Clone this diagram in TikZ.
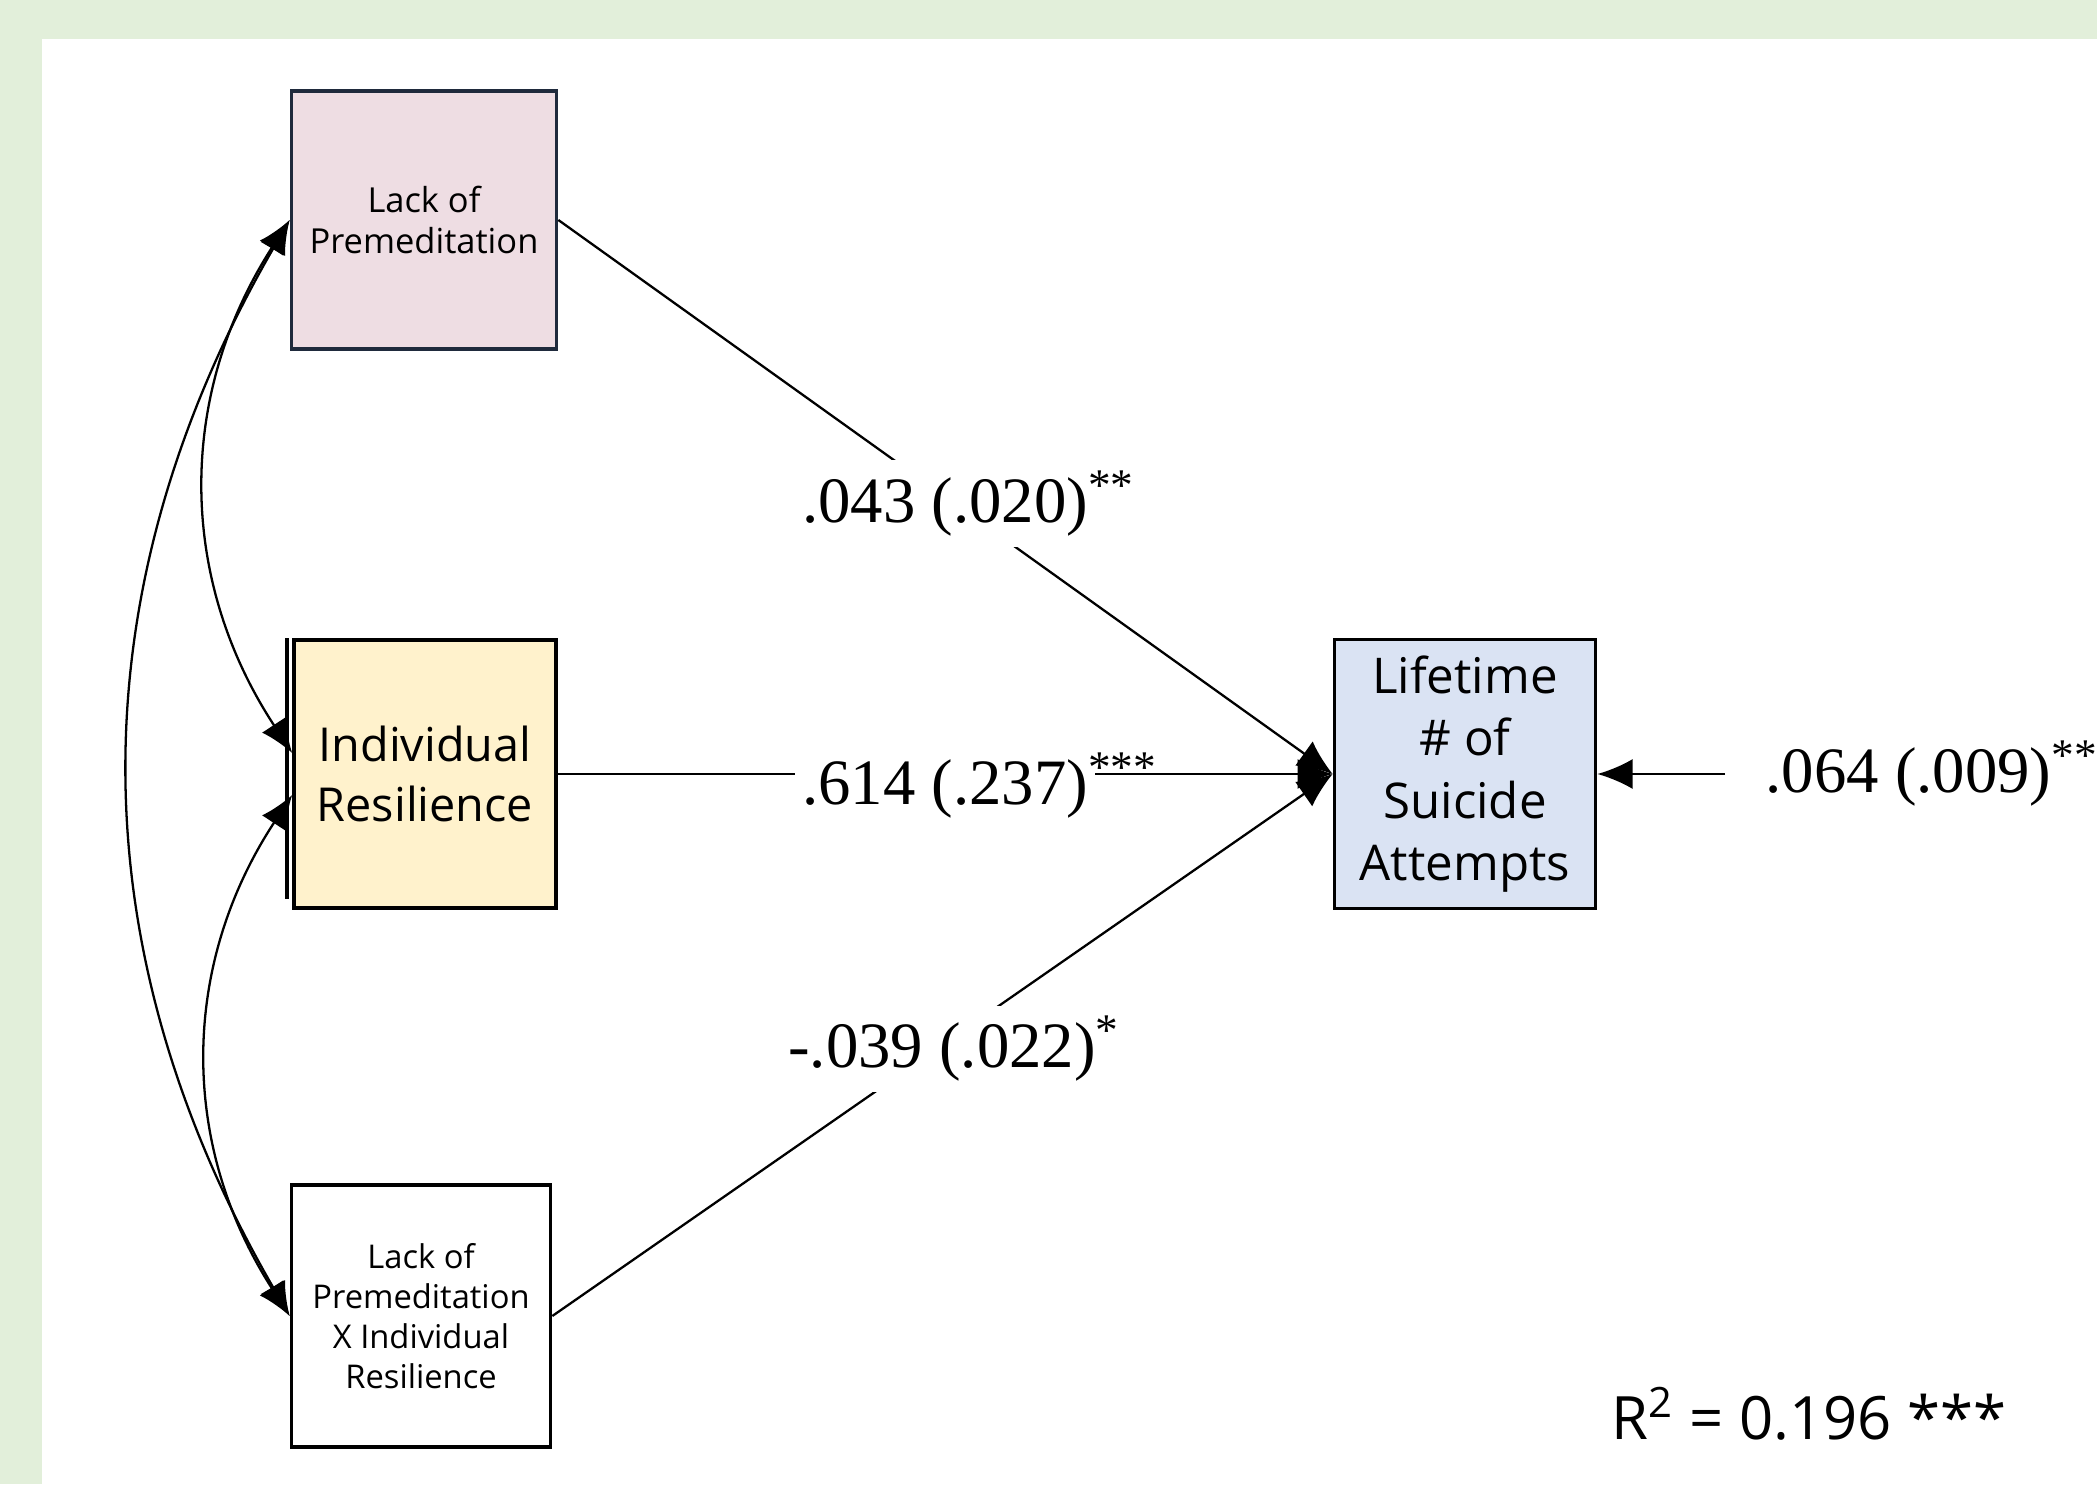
\documentclass[tikz,border=0pt]{standalone}
\usepackage{fontspec}
\setmainfont{Liberation Serif}
\newfontfamily\boxfont{Open Sans}
\usetikzlibrary{arrows.meta,positioning,calc}
\definecolor{PageGreen}{HTML}{E2EFDA}
\definecolor{BoxInk}{HTML}{1F2A3C}
\definecolor{PinkFill}{HTML}{EEDDE3}
\definecolor{GoldFill}{HTML}{FFF2CC}
\definecolor{BlueFill}{HTML}{DAE3F3}

\begin{document}
\begin{tikzpicture}[x=0.01cm,y=0.01cm,
  varbox/.style={draw=black,line width=1pt,align=center,inner sep=0pt},
  coef/.style={fill=white,inner xsep=2pt,inner ysep=3pt,font=\fontsize{18.4}{22}\selectfont},
  effect/.style={-{Latex[length=10pt,width=8.5pt]},line width=0.65pt},
  cov/.style={{Latex[length=9.5pt,width=8pt]}-{Latex[length=9.5pt,width=8pt]},line width=0.65pt}]
\useasboundingbox (0,0) rectangle (2097,1484);
\fill[PageGreen] (0,0) rectangle (2097,1484);
\fill[white] (42,0) rectangle (2097,1445);
% predictors
\node[varbox,fill=PinkFill,draw=BoxInk,minimum width=2.65cm,minimum height=2.58cm,font=\boxfont\fontsize{9.8}{11.7}\selectfont] (lp) at (424,1264) {Lack of\\Premeditation};
\node[varbox,fill=GoldFill,minimum width=2.62cm,minimum height=2.68cm,font=\boxfont\fontsize{13.3}{17}\selectfont] (ir) at (425,710) {Individual\\Resilience};
\draw[line width=1.2pt] ([xshift=-0.05cm]ir.north west) -- ([xshift=-0.05cm,yshift=0.11cm]ir.south west);
\node[varbox,fill=white,minimum width=2.59cm,minimum height=2.62cm,font=\boxfont\fontsize{9.3}{11.4}\selectfont] (lpxir) at (421,168) {Lack of\\Premeditation\\X Individual\\Resilience};
% outcome
\node[varbox,fill=BlueFill,minimum width=2.61cm,minimum height=2.69cm,font=\boxfont\fontsize{14}{17.8}\selectfont] (lsa) at (1465,710) {Lifetime\\\# of\\Suicide\\Attempts};
% paths
\draw[effect] (lp.east) -- node[coef,pos=0.53,yshift=0.1cm] {.043 (.020)\textsuperscript{**}} (lsa.west);
\draw[effect] (ir.east) -- node[coef,pos=0.5,yshift=-0.12cm] {.614 (.237)\rlap{\textsuperscript{***}}} (lsa.west);
\draw[effect] (lpxir.east) -- node[coef,pos=0.515,yshift=-0.12cm] {-.039 (.022)\textsuperscript{*}} (lsa.west);
\node[anchor=west,inner xsep=0.4cm,inner ysep=0pt,font=\fontsize{18.4}{22}\selectfont] (res) at (1725,710) {.064 (.009)\textsuperscript{**}};
\draw[effect] (res.west) -- (lsa.east);
% covariances
\draw[cov] (lp.west) to[bend right=30] (lpxir.west);
\draw[cov] (lp.west) to[bend right=33] (ir.171);
\draw[cov] (ir.189) to[bend right=33] (lpxir.west);
\node[font=\boxfont\fontsize{17}{20}\selectfont] (rsq) at (1809,70) {R\textsuperscript{2} = 0.196 ***};
\end{tikzpicture}
\end{document}
